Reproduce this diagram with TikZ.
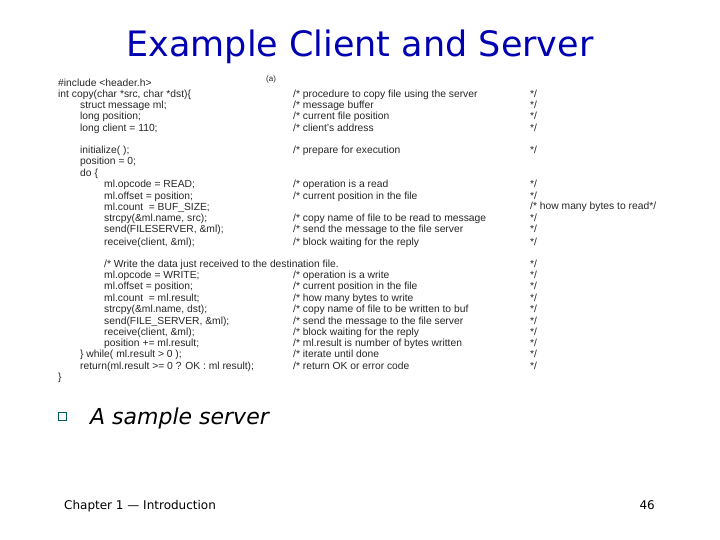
\documentclass[tikz,border=0pt]{standalone}
\usepackage{fontspec}
\setmainfont{Liberation Sans}
\newfontfamily\titlefont{DejaVu Sans}
\begin{document}
\begin{tikzpicture}[x=1pt,y=-1pt,
 code/.style={anchor=base west,inner sep=0pt,font=\fontsize{10.3}{12}\selectfont,text=black!85},
 cmt/.style={code}]
\useasboundingbox (0,0) rectangle (720,540);
\node[font=\titlefont\fontsize{35}{40}\selectfont,text=blue!70!black] (title) at (360,47) {Example Client and Server};
\node[code,font=\fontsize{8}{9}\selectfont] (a) at (266,82) {(a)};
% code column
\foreach \y/\x/\t [count=\i] in {
 87/58/{\#include <header.h>},
 98/58/{int copy(char *src, char *dst)\{},
 109/80/{struct message ml;},
 120/80/{long position;},
 132/80/{long client = 110;},
 154/80/{initialize( );},
 165/80/{position = 0;},
 177/80/{do \{},
 188/104/{ml.opcode = READ;},
 200/104/{ml.offset = position;},
 211/104/{ml.count\ \ = BUF\_SIZE;},
 222/104/{strcpy(\&ml.name, src);},
 233/104/{send(FILESERVER, \&ml);},
 245/104/{receive(client, \&ml);},
 267/104/{/* Write the data just received to the destination file.},
 278/104/{ml.opcode = WRITE;},
 289/104/{ml.offset = position;},
 301/104/{ml.count\ \ = ml.result;},
 312/104/{strcpy(\&ml.name, dst);},
 324/104/{send(FILE\_SERVER, \&ml);},
 335/104/{receive(client, \&ml);},
 346/104/{position += ml.result;},
 357/80/{\} while( ml.result > 0 );},
 369/80/{return(ml.result >= 0 ? OK : ml result);},
 380/58/{\}}}
 \node[code] (c\i) at (\x,\y) {\t};
% comments
\foreach \y/\t [count=\i] in {
 98/{/* procedure to copy file using the server},
 109/{/* message buffer},
 120/{/* current file position},
 132/{/* client's address},
 154/{/* prepare for execution},
 188/{/* operation is a read},
 200/{/* current position in the file},
 222/{/* copy name of file to be read to message},
 233/{/* send the message to the file server},
 245/{/* block waiting for the reply},
 278/{/* operation is a write},
 289/{/* current position in the file},
 301/{/* how many bytes to write},
 312/{/* copy name of file to be written to buf},
 324/{/* send the message to the file server},
 335/{/* block waiting for the reply},
 346/{/* ml.result is number of bytes written},
 357/{/* iterate until done},
 369/{/* return OK or error code}}
 \node[cmt] (m\i) at (293,\y) {\t};
\foreach \y [count=\i] in {98,109,120,132,154,188,200,222,233,245,267,278,289,301,312,324,335,346,357,369}
 \node[cmt] (e\i) at (530,\y) {*/};
\node[cmt] (howmany) at (530,210) {/* how many bytes to read*/};
% bullet
\node[draw=teal!70!black,line width=0.8pt,minimum size=8pt,inner sep=0pt] (bul) at (62,416) {};
\node[anchor=base west,inner sep=0pt,font=\titlefont\itshape\fontsize{22}{26}\selectfont] (sample) at (90,424) {A sample server};
\node[anchor=base west,inner sep=0pt,font=\titlefont\fontsize{12}{14}\selectfont] (foot) at (64,509) {Chapter 1 — Introduction};
\node[anchor=base east,inner sep=0pt,font=\titlefont\fontsize{12}{14}\selectfont] (num) at (655,509) {46};
\end{tikzpicture}
\end{document}
